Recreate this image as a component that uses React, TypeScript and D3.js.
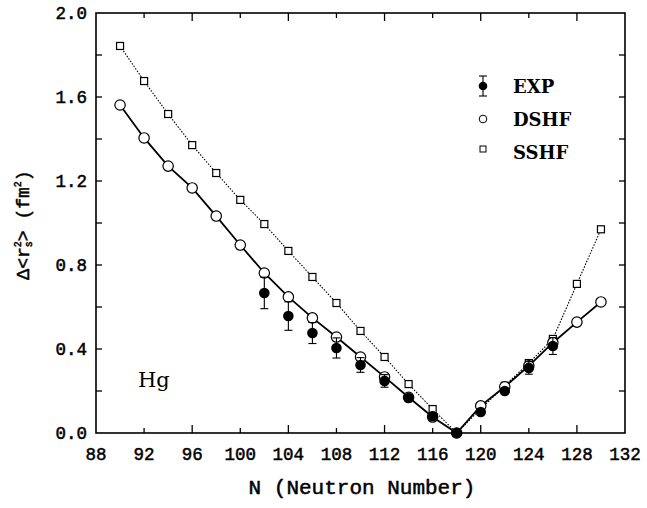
import { useEffect, useRef } from "react";
import * as d3 from "d3";

const W = 647;
const H = 508;

// neutron numbers for the two calculations
const calcN = [90, 92, 94, 96, 98, 100, 102, 104, 106, 108, 110, 112, 114, 116, 118, 120, 122, 124, 126, 128, 130];
const dshf = [1.562, 1.405, 1.271, 1.167, 1.033, 0.895, 0.762, 0.648, 0.548, 0.457, 0.362, 0.267, 0.17, 0.076, 0, 0.129, 0.22, 0.32, 0.43, 0.528, 0.624];
const sshf = [1.843, 1.676, 1.519, 1.371, 1.238, 1.11, 0.995, 0.867, 0.743, 0.619, 0.486, 0.362, 0.233, 0.114, 0, 0.115, 0.225, 0.333, 0.448, 0.71, 0.97];

// experiment
const expN = [102, 104, 106, 108, 110, 112, 114, 116, 118, 120, 122, 124, 126];
const expV = [0.667, 0.557, 0.476, 0.405, 0.324, 0.248, 0.167, 0.08, 0, 0.1, 0.2, 0.31, 0.414];
const expErr = [0.075, 0.068, 0.05, 0.048, 0.035, 0.03, 0.015, 0.012, 0, 0.012, 0.02, 0.03, 0.04];

const xTicks = [88, 92, 96, 100, 104, 108, 112, 116, 120, 124, 128, 132];
const xLongTicks = [96, 104, 112, 120, 128];
const yTicks = [0, 0.4, 0.8, 1.2, 1.6, 2.0];
const yMinorTicks = [0.2, 0.6, 1.0, 1.4, 1.8];

const MONO = "'Liberation Mono', 'DejaVu Sans Mono', monospace";
const SERIF = "'DejaVu Serif', 'Liberation Serif', serif";

function draw(svgEl: SVGSVGElement) {
  const svg = d3.select(svgEl);
  svg.selectAll("*").remove();

  const x = d3.scaleLinear().domain([88, 132]).range([96, 625]);
  const y = d3.scaleLinear().domain([0, 2]).range([433, 13]);

  const g = svg.append("g");

  // frame
  g.append("rect")
    .attr("x", x(88)).attr("y", y(2))
    .attr("width", x(132) - x(88)).attr("height", y(0) - y(2))
    .attr("fill", "none").attr("stroke", "#000").attr("stroke-width", 1.6);

  // x ticks, top and bottom, pointing inward
  xTicks.slice(1, -1).forEach(t => {
    const len = xLongTicks.includes(t) ? 8 : 5;
    g.append("line").attr("x1", x(t)).attr("x2", x(t)).attr("y1", y(0)).attr("y2", y(0) - len)
      .attr("stroke", "#000").attr("stroke-width", 1.3);
    g.append("line").attr("x1", x(t)).attr("x2", x(t)).attr("y1", y(2)).attr("y2", y(2) + len)
      .attr("stroke", "#000").attr("stroke-width", 1.3);
  });

  // y ticks, left and right
  [...yTicks.slice(1, -1), ...yMinorTicks].forEach(t => {
    g.append("line").attr("x1", x(88)).attr("x2", x(88) + 6).attr("y1", y(t)).attr("y2", y(t))
      .attr("stroke", "#000").attr("stroke-width", 1.3);
    g.append("line").attr("x1", x(132)).attr("x2", x(132) - 6).attr("y1", y(t)).attr("y2", y(t))
      .attr("stroke", "#000").attr("stroke-width", 1.3);
  });

  const monoStyle = (sel: any, size: number) =>
    sel.style("font-family", MONO).style("font-size", `${size}px`)
      .attr("stroke", "#000").attr("stroke-width", 0.5).attr("fill", "#000");

  // tick labels
  g.selectAll(".xl").data(xTicks).join("text")
    .attr("x", d => x(d)).attr("y", 460)
    .attr("text-anchor", "middle")
    .call(monoStyle, 17.5)
    .text(d => d);

  g.selectAll(".yl").data(yTicks).join("text")
    .attr("x", 87).attr("y", d => y(d) + 6)
    .attr("text-anchor", "end")
    .call(monoStyle, 17.5)
    .text(d => d.toFixed(1));

  // axis titles
  g.append("text")
    .attr("x", 362).attr("y", 494)
    .attr("text-anchor", "middle")
    .call(monoStyle, 21)
    .text("N (Neutron Number)");

  const yt = g.append("text")
    .attr("transform", "translate(29,225) rotate(-90)")
    .attr("text-anchor", "middle")
    .call(monoStyle, 18);
  yt.append("tspan").text("Δ<r");
  yt.append("tspan").attr("font-size", "10px").attr("dy", -8).text("2");
  yt.append("tspan").attr("font-size", "10px").attr("dy", 11).attr("dx", -6).text("s");
  yt.append("tspan").attr("dy", -3).text("> (fm");
  yt.append("tspan").attr("font-size", "10px").attr("dy", -8).text("2");
  yt.append("tspan").attr("dy", 8).text(")");

  // Hg label
  g.append("text").attr("x", 138).attr("y", 387)
    .style("font-family", SERIF).style("font-size", "21px")
    .text("Hg");

  const sshfPts = calcN.map((n, i) => [n, sshf[i]] as [number, number]);
  const dshfPts = calcN.map((n, i) => [n, dshf[i]] as [number, number]);
  const line = d3.line<[number, number]>().x(d => x(d[0])).y(d => y(d[1]));

  g.append("path").datum(sshfPts).attr("d", line)
    .attr("fill", "none").attr("stroke", "#000").attr("stroke-width", 1.1)
    .attr("stroke-dasharray", "1.5 1.5");
  g.append("path").datum(dshfPts).attr("d", line)
    .attr("fill", "none").attr("stroke", "#000").attr("stroke-width", 1.8);

  // SSHF squares
  g.selectAll(".sq").data(sshfPts).join("rect")
    .attr("x", d => x(d[0]) - 3.5).attr("y", d => y(d[1]) - 3.5)
    .attr("width", 7).attr("height", 7)
    .attr("fill", "#fff").attr("stroke", "#000").attr("stroke-width", 1.2);

  // DSHF circles
  g.selectAll(".ci").data(dshfPts).join("circle")
    .attr("cx", d => x(d[0])).attr("cy", d => y(d[1])).attr("r", 5.2)
    .attr("fill", "#fff").attr("stroke", "#000").attr("stroke-width", 1.2);

  // EXP with error bars
  expN.forEach((n, i) => {
    const cx = x(n);
    const e = expErr[i];
    if (e > 0.02) {
      const y1 = y(expV[i] - e);
      const y2 = y(expV[i] + e);
      g.append("line").attr("x1", cx).attr("x2", cx).attr("y1", y1).attr("y2", y2)
        .attr("stroke", "#000").attr("stroke-width", 1.1);
      [y1, y2].forEach(yy => g.append("line").attr("x1", cx - 4).attr("x2", cx + 4)
        .attr("y1", yy).attr("y2", yy).attr("stroke", "#000").attr("stroke-width", 1.1));
    }
    g.append("circle").attr("cx", cx).attr("cy", y(expV[i])).attr("r", 5.3).attr("fill", "#000");
  });

  // legend
  const lx = 483;
  g.append("line").attr("x1", lx).attr("x2", lx).attr("y1", 76).attr("y2", 96)
    .attr("stroke", "#000").attr("stroke-width", 1.1);
  [76, 96].forEach(yy => g.append("line").attr("x1", lx - 4).attr("x2", lx + 4)
    .attr("y1", yy).attr("y2", yy).attr("stroke", "#000").attr("stroke-width", 1.1));
  g.append("circle").attr("cx", lx).attr("cy", 86).attr("r", 4.3).attr("fill", "#000");
  g.append("circle").attr("cx", lx).attr("cy", 119).attr("r", 3.8)
    .attr("fill", "#fff").attr("stroke", "#000").attr("stroke-width", 1);
  g.append("rect").attr("x", lx - 3).attr("y", 146).attr("width", 6).attr("height", 6)
    .attr("fill", "#fff").attr("stroke", "#000").attr("stroke-width", 1);

  const legendLabels = ["EXP", "DSHF", "SSHF"];
  legendLabels.forEach((t, i) => {
    g.append("text").attr("x", 513).attr("y", 93 + i * 33)
      .style("font-family", SERIF).style("font-size", "18px").style("font-weight", "bold")
      .text(t);
  });
}

export default function App() {
  const ref = useRef<SVGSVGElement>(null);
  useEffect(() => {
    if (ref.current) draw(ref.current);
  }, []);
  return (
    <div style={{ position: "fixed", left: 0, top: 0, width: W, height: H, background: "#fff" }}>
      <svg ref={ref} width={W} height={H} style={{ display: "block" }} />
    </div>
  );
}
